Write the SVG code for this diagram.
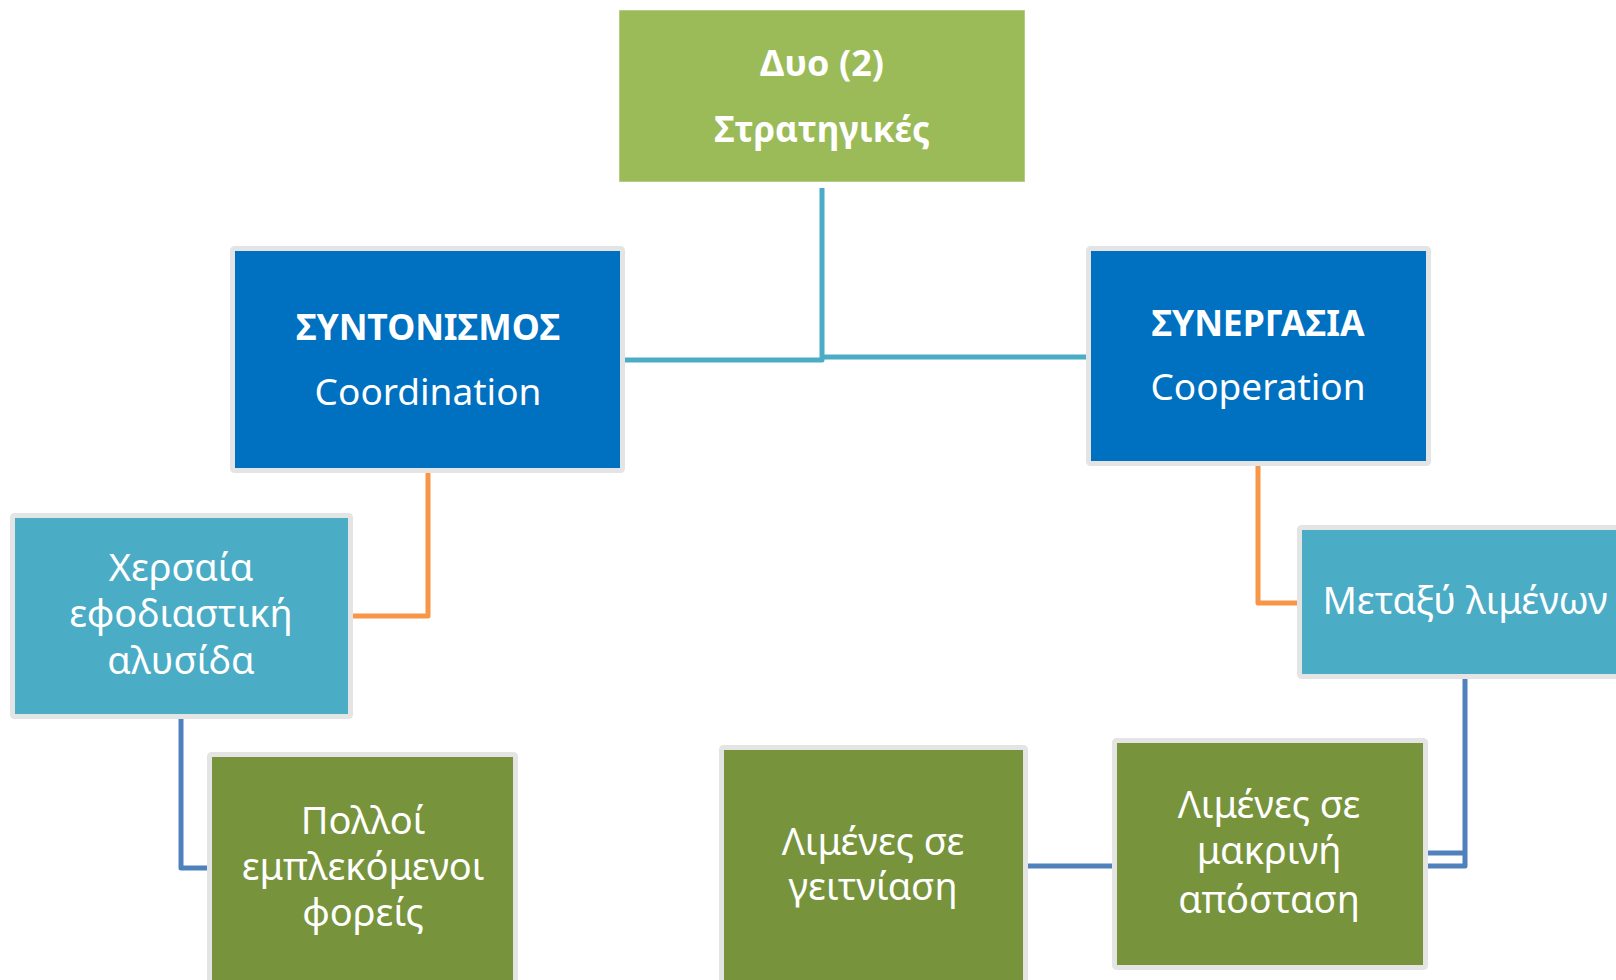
<svg xmlns="http://www.w3.org/2000/svg" width="1616" height="980" viewBox="0 0 1616 980">
<style>
.t{font-family:"Noto Sans","Open Sans","DejaVu Sans",sans-serif;fill:#fff;text-anchor:middle;font-size:38px}
.e{font-size:37px}
.b{font-weight:bold;font-size:35.5px}
.n{stroke:#E4E4E4;stroke-width:5}
.blue{fill:#0070C0}.cyan{fill:#4BACC6}.green{fill:#77933C}
.c{fill:none;stroke-width:5;stroke-linejoin:round}
</style>
<rect width="1616" height="980" fill="#fff"/>
<g id="connectors">
<path class="c" stroke="#4BACC6" d="M822 188 V360 H625"/>
<path class="c" stroke="#4BACC6" d="M822 357 H1086"/>
<path class="c" stroke="#F79646" d="M428 473 V616 H353"/>
<path class="c" stroke="#F79646" d="M1258 466 V603 H1297"/>
<path class="c" stroke="#4F81BD" d="M181 719 V868 H207"/>
<path class="c" stroke="#4F81BD" d="M1465 679 V866 H1028"/>
<path class="c" stroke="#4F81BD" d="M1465 853 H1428"/>
</g>
<g id="top">
<rect x="619.5" y="10.5" width="405" height="171" fill="#9BBB59" stroke="#B3CE7E" stroke-width="1"/>
<text class="t b" x="822" y="76" style="font-size:36px">Δυο (2)</text>
<text class="t b" x="822" y="142" style="font-size:35px">Στρατηγικές</text>
</g>
<g id="coordination">
<rect class="n blue" x="232.5" y="248.5" width="390" height="222" rx="2"/>
<text class="t b" x="428" y="340">ΣΥΝΤΟΝΙΣΜΟΣ</text>
<text class="t e" x="428" y="405">Coordination</text>
</g>
<g id="cooperation">
<rect class="n blue" x="1088.5" y="248.5" width="340" height="215" rx="2"/>
<text class="t b" x="1258" y="336">ΣΥΝΕΡΓΑΣΙΑ</text>
<text class="t e" x="1258" y="400">Cooperation</text>
</g>
<g id="land">
<rect class="n cyan" x="12.5" y="515.5" width="338" height="201" rx="2"/>
<text class="t" x="181" y="581">Χερσαία</text>
<text class="t" x="181" y="627">εφοδιαστική</text>
<text class="t" x="181" y="674">αλυσίδα</text>
</g>
<g id="many">
<rect class="n green" x="209.5" y="754.5" width="306" height="250" rx="2"/>
<text class="t" x="363" y="834">Πολλοί</text>
<text class="t" x="363" y="880">εμπλεκόμενοι</text>
<text class="t" x="363" y="926">φορείς</text>
</g>
<g id="between">
<rect class="n cyan" x="1299.5" y="527.5" width="340" height="149" rx="2"/>
<text class="t" x="1465" y="614">Μεταξύ λιμένων</text>
</g>
<g id="far">
<rect class="n green" x="1114.5" y="740.5" width="311" height="227" rx="2"/>
<text class="t" x="1269" y="818">Λιμένες σε</text>
<text class="t" x="1269" y="864">μακρινή</text>
<text class="t" x="1269" y="913">απόσταση</text>
</g>
<g id="near">
<rect class="n green" x="721.5" y="747.5" width="304" height="260" rx="2"/>
<text class="t" x="873" y="855">Λιμένες σε</text>
<text class="t" x="873" y="900">γειτνίαση</text>
</g>
</svg>
